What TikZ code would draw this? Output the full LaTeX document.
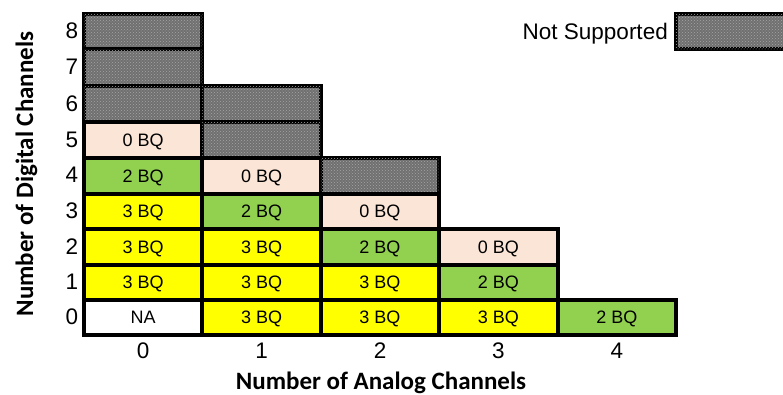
\documentclass[tikz,border=0pt]{standalone}
\usepackage{fontspec}
\usetikzlibrary{patterns}
\setmainfont{Liberation Sans}
\newfontfamily\titlefont{Carlito}
\definecolor{nsgray}{RGB}{112,112,112}
\definecolor{nsdots}{RGB}{165,165,165}
\definecolor{peach}{RGB}{251,229,214}
\definecolor{bqgreen}{RGB}{146,208,80}
\definecolor{bqyellow}{RGB}{255,255,0}
\newcommand{\mkcell}[6]{\node[cellbox, fill=#5, minimum height=#4pt] (#1) at ({143.2+118.4*#2},#3) {#6};}
\begin{document}
\begin{tikzpicture}[x=1pt,y=-1pt,
  cellbox/.style={draw=black, line width=4pt, rectangle, inner sep=0pt,
    minimum width=118.4pt, text height=12.9pt, text depth=0pt,
    font=\fontsize{18}{21}\selectfont},
  nsbox/.style={cellbox, fill=nsgray, preaction={fill=nsgray},
    postaction={pattern=crosshatch dots, pattern color=nsdots}},
  ticklab/.style={inner sep=0pt, text height=16.1pt, text depth=0pt,
    font=\fontsize{22.5}{26}\selectfont},
  axtitle/.style={inner sep=0pt, font=\titlefont\bfseries\fontsize{25}{30}\selectfont},
  legtext/.style={inner sep=0pt, text height=16.1pt, text depth=0pt,
    font=\fontsize{22.5}{26}\selectfont}]
\useasboundingbox (0,0) rectangle (783,394);
% column 0
\node[nsbox, minimum height=35pt] (c0r8) at (143.2,31.5) {};
\node[nsbox, minimum height=37pt] (c0r7) at (143.2,67.5) {};
\node[nsbox, minimum height=36pt] (c0r6) at (143.2,104) {};
\mkcell{c0r5}{0}{140}{36}{peach}{0 BQ}
\mkcell{c0r4}{0}{175.75}{35.5}{bqgreen}{2 BQ}
\mkcell{c0r3}{0}{211.25}{35.5}{bqyellow}{3 BQ}
\mkcell{c0r2}{0}{247}{36}{bqyellow}{3 BQ}
\mkcell{c0r1}{0}{282.5}{35}{bqyellow}{3 BQ}
\mkcell{c0r0}{0}{317.25}{34.5}{white}{NA}
% column 1
\node[nsbox, minimum height=36pt] (c1r6) at (261.6,104) {};
\node[nsbox, minimum height=36pt] (c1r5) at (261.6,140) {};
\mkcell{c1r4}{1}{175.75}{35.5}{peach}{0 BQ}
\mkcell{c1r3}{1}{211.25}{35.5}{bqgreen}{2 BQ}
\mkcell{c1r2}{1}{247}{36}{bqyellow}{3 BQ}
\mkcell{c1r1}{1}{282.5}{35}{bqyellow}{3 BQ}
\mkcell{c1r0}{1}{317.25}{34.5}{bqyellow}{3 BQ}
% column 2
\node[nsbox, minimum height=35.5pt] (c2r4) at (380,175.75) {};
\mkcell{c2r3}{2}{211.25}{35.5}{peach}{0 BQ}
\mkcell{c2r2}{2}{247}{36}{bqgreen}{2 BQ}
\mkcell{c2r1}{2}{282.5}{35}{bqyellow}{3 BQ}
\mkcell{c2r0}{2}{317.25}{34.5}{bqyellow}{3 BQ}
% column 3
\mkcell{c3r2}{3}{247}{36}{peach}{0 BQ}
\mkcell{c3r1}{3}{282.5}{35}{bqgreen}{2 BQ}
\mkcell{c3r0}{3}{317.25}{34.5}{bqyellow}{3 BQ}
% column 4
\mkcell{c4r0}{4}{317.25}{34.5}{bqgreen}{2 BQ}
% y tick labels
\node[ticklab] (y8) at (72,30) {8};
\node[ticklab] (y7) at (72,66.5) {7};
\node[ticklab] (y6) at (72,103) {6};
\node[ticklab] (y5) at (72,139) {5};
\node[ticklab] (y4) at (72,174.75) {4};
\node[ticklab] (y3) at (72,210.25) {3};
\node[ticklab] (y2) at (72,246) {2};
\node[ticklab] (y1) at (72,281.5) {1};
\node[ticklab] (y0) at (72,316.25) {0};
% x tick labels
\node[ticklab] (x0) at (143.2,350.5) {0};
\node[ticklab] (x1) at (261.6,350.5) {1};
\node[ticklab] (x2) at (380,350.5) {2};
\node[ticklab] (x3) at (498.4,350.5) {3};
\node[ticklab] (x4) at (616.8,350.5) {4};
% axis titles
\node[axtitle, anchor=base] (xtitle) at (381,389) {Number of Analog Channels};
\node[axtitle, anchor=base, rotate=90] (ytitle) at (33,174) {Number of Digital Channels};
% legend
\node[nsbox, minimum width=114pt, minimum height=35pt] (legend) at (733,31.5) {};
\node[legtext, anchor=east] (legtxt) at ([xshift=-6pt]legend.west) {Not Supported};
\end{tikzpicture}
\end{document}
